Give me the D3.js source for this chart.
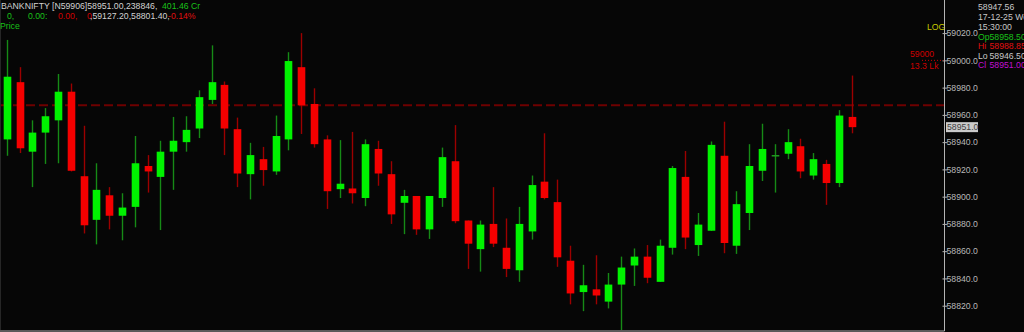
<!DOCTYPE html>
<html lang="en">
<head>
  <meta charset="utf-8"/>
  <title>BANKNIFTY candles</title>
  <script src="https://cdn.jsdelivr.net/npm/d3@7/dist/d3.min.js"></script>
  <style>
    html, body { margin:0; padding:0; width:100%; height:100%; overflow:hidden; background:#060606; }
    svg { display:block; }
    text { font-family:"Liberation Sans", Arial, sans-serif; font-size:8.7px; }
  </style>
</head>
<body>
  <svg width="1024" height="332"></svg>

  <script>
  // OHLC per bar (left to right)
  const opens  = [58942,58984,58933,58947,58956,58977,58915,58883,58901,58886,
                  58892.5,58922.5,58914.5,58933,58940,58950,58971,58982,58949.5,58916.5,
                  58927.5,58918.5,58942,58995,58968,58942,58905.5,58906,58899,58935,
                  58916.5,58895.5,58900.5,58876,58899,58926,58882.5,58861.5,58880,58862.5,
                  58846,58874.5,58911,58896,58853,58830,58832,58823,58835.5,58849.5,
                  58856,58837.5,58862.5,58914.5,58864.5,58875,58930,58864,58888,58919,
                  58930,58931.5,58937,58915.5,58924,58910,58958.5];
  const highs  = [59015,58995,58956,58965,58990,58983,58952,58924.5,58907,58902.5,
                  58944.5,58930.5,58941,58958.5,58959,58978,59011,58984.5,58958,58939.5,
                  58936.5,58959.5,59006,59020,58979.5,58945,58941.5,58947.5,58942,58941,
                  58926,58905,58900.5,58900.5,58936,58952.5,58882.5,58882.5,58907,58884,
                  58892.5,58915.5,58946.5,58912.5,58864,58850,58857,58844,58856,58862,
                  58864.5,58868.5,58922.5,58933.5,58888,58940.5,58955,58904,58938.5,58953.5,
                  58938.5,58949.5,58942.5,58932,58927,58963.5,58988.85];
  const lows   = [58930,58932,58907,58924,58924.5,58918.5,58873,58865,58876,58868,
                  58877.5,58903,58875.5,58905,58933,58943,58968,58930.5,58907,58898,
                  58908,58916,58934,58946,58936,58891,58899,58895,58893,58908,
                  58880,58872.5,58872,58869,58892.5,58880.5,58847,58845,58863,58841,
                  58837.5,58868.5,58898,58848.5,58821,58816,58821,58818,58801.4,58834.5,
                  58836.5,58837.5,58857.5,58861.5,58856.5,58875,58858.5,58858,58875.5,58911.5,
                  58903,58927.5,58913.5,58912.5,58894,58907,58946.5];
  const closes = [58988,58935.5,58947,58959,58977,58919,58879,58905,58886,58892,
                  58924.5,58918.5,58933,58941,58949,58973,58984,58950,58917,58930.5,
                  58919.5,58944.5,58999.5,58967,58938.5,58904,58909.5,58902.5,58938.5,58917,
                  58887,58900.5,58876,58900.5,58929,58882,58865.5,58879.5,58865.5,58847,
                  58880,58908.5,58899,58855.5,58829,58835,58827.5,58835.5,58848,58856,
                  58840.5,58864,58921,58870,58879.5,58938,58866,58894.5,58922.5,58935,
                  58930,58940,58918.5,58927.5,58910,58959.5,58951];

  const yTicks   = [58820,58840,58860,58880,58900,58920,58940,58960,58980,59000,59020];
  const refLevel = 58967;      // dashed line
  const oiLevel  = 59000;      // 59000 / 13.3 Lk marker
  const lastPx   = 58951;

  const header1 = [["BANKNIFTY [N59906]58951.00,238846,", "#d2d2d2", 1],
                   ["401.46", "#19c019", 162], ["Cr", "#19c019", 191]];
  const header2 = [["0,", "#19c019", 7], ["0.00:", "#19c019", 28], ["0.00,", "#d00000", 58],
                   ["0", "#d00000", 87], [",59127.20,58801.40,", "#d2d2d2", 90],
                   ["-0.14%", "#e01010", 168]];
  const info = [["58947.56", "", "#c8c8c8"], ["17-12-25 We", "", "#c8c8c8"],
                ["15:30:00", "", "#c8c8c8"], ["Op", "58958.50", "#19c019"],
                ["Hi", "58988.85", "#e01010"], ["Lo", "58946.50", "#c8c8c8"],
                ["Cl", "58951.00", "#c010d0"]];

  const svg = d3.select("svg");
  const axisX = 944.5, bottomY = 331;

  const bars = opens.map((o, i) => ({ o, h: highs[i], l: lows[i], c: closes[i], i }));

  const x = d3.scaleLinear().domain([0, bars.length - 1]).range([6.7, 851.5]);
  const y = d3.scaleLinear().domain([58820, 59020]).range([305.7, 33.1]);
  const bw = 7.6;

  // reference dashed line
  svg.append("line")
    .attr("x1", 0).attr("x2", axisX)
    .attr("y1", y(refLevel)).attr("y2", y(refLevel))
    .attr("stroke", "#6e0000").attr("stroke-width", 2)
    .attr("stroke-dasharray", "9,4");

  // candles
  const g = svg.append("g");
  const up = d => d.c >= d.o;
  g.selectAll("line.wick").data(bars).join("line")
    .attr("class", "wick")
    .attr("x1", d => Math.round(x(d.i)) + 0.5).attr("x2", d => Math.round(x(d.i)) + 0.5)
    .attr("y1", d => y(d.h)).attr("y2", d => y(d.l))
    .attr("stroke", d => up(d) ? "#168a16" : "#9c0000")
    .attr("stroke-width", 1.4);

  g.selectAll("rect.body").data(bars).join("rect")
    .attr("class", "body")
    .attr("x", d => Math.round(x(d.i)) + 0.5 - bw / 2)
    .attr("width", bw)
    .attr("y", d => d.o === d.c ? y(d.o) - 0.75 : y(Math.max(d.o, d.c)))
    .attr("height", d => d.o === d.c ? 1.5 : Math.abs(y(d.o) - y(d.c)))
    .attr("fill", d => d.o === d.c ? "#1f9a1f" : (up(d) ? "#00f200" : "#f50000"));

  // frame
  svg.append("line").attr("x1", 0.5).attr("x2", 0.5).attr("y1", 0).attr("y2", bottomY)
    .attr("stroke", "#262626");
  svg.append("line").attr("x1", 0).attr("x2", axisX).attr("y1", bottomY).attr("y2", bottomY)
    .attr("stroke", "#5a5a5a").attr("stroke-width", 2);

  // right price axis
  const axis = svg.append("g").attr("transform", `translate(${axisX},0)`)
    .call(d3.axisRight(y).tickValues(yTicks).tickFormat(d3.format(".1f")).tickSize(3).tickPadding(-1));
  axis.select(".domain").remove();
  axis.append("line").attr("y1", 0).attr("y2", bottomY).attr("stroke", "#b4b4b4");
  axis.selectAll(".tick line").attr("stroke", "#b4b4b4").attr("x1", -2);
  axis.selectAll(".tick text").attr("fill", "#b8b8b8")
    .style("font-family", '"Liberation Sans", Arial, sans-serif').style("font-size", "8.7px");

  // last price box
  const lp = svg.append("g").attr("transform", `translate(946,${y(lastPx)})`);
  lp.append("rect").attr("x", 0).attr("y", -5).attr("width", 32).attr("height", 10).attr("fill", "#cacaca");
  lp.append("text").attr("x", 1).attr("y", 3.2).attr("fill", "#404040").text(d3.format(".1f")(lastPx));

  // LOG + OI marker
  svg.append("text").attr("x", 927).attr("y", 30).attr("fill", "#c8c800").text("LOG");
  svg.append("text").attr("x", 910).attr("y", 57).attr("fill", "#cc0000").text(String(oiLevel));
  svg.append("text").attr("x", 910).attr("y", 68.5).attr("fill", "#cc0000").text("13.3 Lk");
  svg.append("line").attr("x1", 922).attr("x2", axisX - 1)
    .attr("y1", y(oiLevel)).attr("y2", y(oiLevel))
    .attr("stroke", "#cc0000").attr("stroke-dasharray", "1,2");

  // header
  const h1 = svg.append("text").attr("y", 9);
  header1.forEach(([t, col, px]) => h1.append("tspan").attr("x", px).attr("fill", col).text(t));
  const h2 = svg.append("text").attr("y", 19);
  header2.forEach(([t, col, px]) => h2.append("tspan").attr("x", px).attr("fill", col).text(t));
  svg.append("text").attr("x", 0).attr("y", 29).attr("fill", "#19c019").text("Price");

  // info panel
  const baselines = [9.5, 20, 30, 39.5, 49, 58.5, 68];
  info.forEach(([a, b, col], k) => {
    const t = svg.append("text").attr("y", baselines[k]).attr("fill", col);
    t.append("tspan").attr("x", 978).text(a);
    if (b) t.append("tspan").attr("x", 989.5).text(b);
  });
  </script>
</body>
</html>
